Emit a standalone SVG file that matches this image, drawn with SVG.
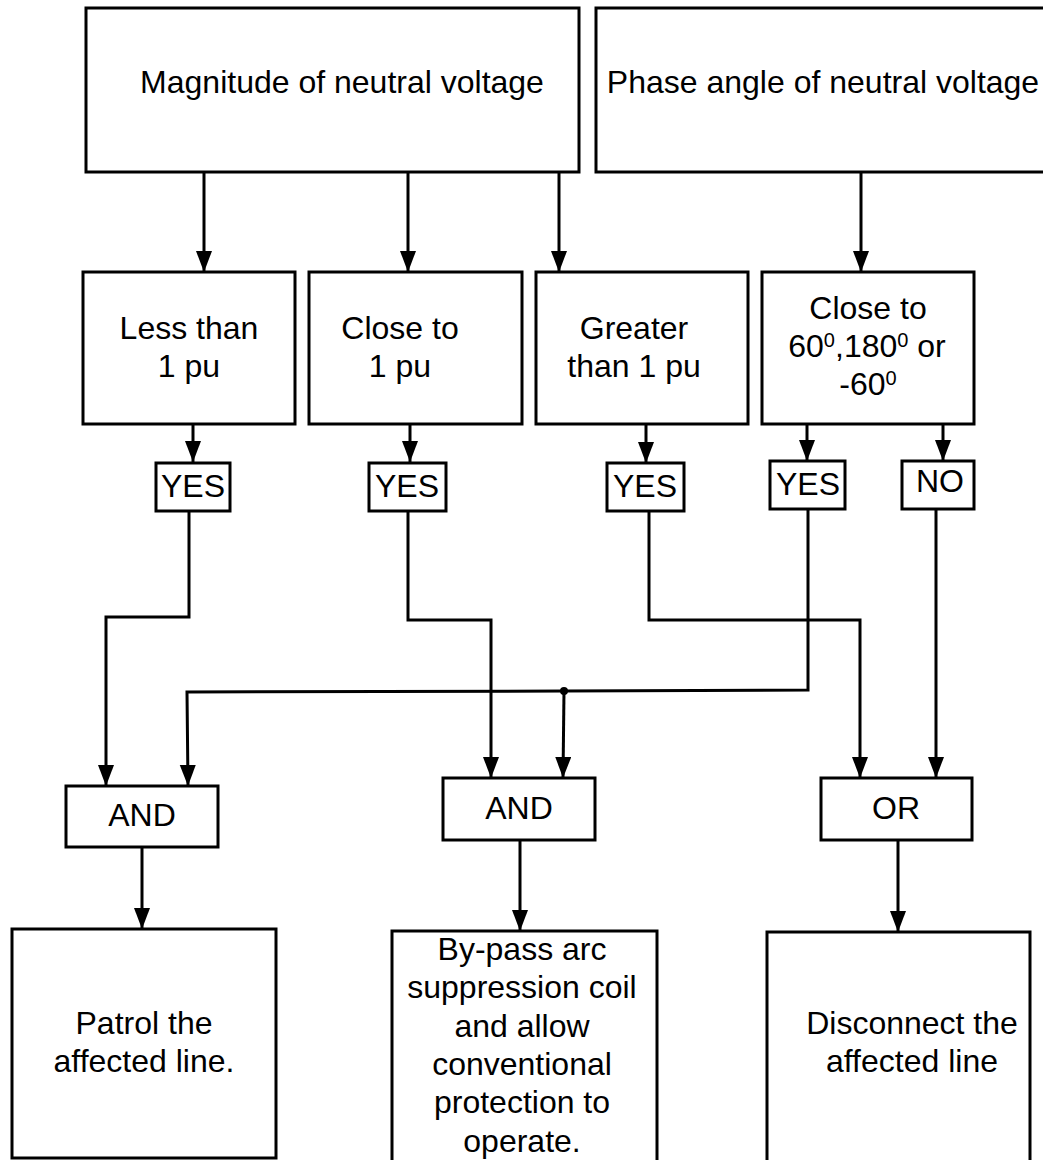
<svg xmlns="http://www.w3.org/2000/svg" width="1043" height="1160" viewBox="0 0 1043 1160">
<defs>
<style>
.box{fill:#fff;stroke:#000;stroke-width:3}
.t{font-family:"Liberation Sans",Arial,sans-serif;font-size:32px;fill:#000;text-anchor:middle}
.sup{font-size:20px}
.c{fill:none;stroke:#000;stroke-width:3}
</style>
<marker id="ah" markerUnits="userSpaceOnUse" markerWidth="22" markerHeight="18" refX="21" refY="8" orient="auto">
<path d="M0,0 L21,8 L0,16 Z" fill="#000"/>
</marker>
</defs>
<rect width="1043" height="1160" fill="#fff"/>

<g id="connectors">
<path class="c" d="M204,172 V272" marker-end="url(#ah)"/>
<path class="c" d="M408,172 V272" marker-end="url(#ah)"/>
<path class="c" d="M559,172 V272" marker-end="url(#ah)"/>
<path class="c" d="M861,172 V272" marker-end="url(#ah)"/>
<path class="c" d="M193,424 V462" marker-end="url(#ah)"/>
<path class="c" d="M410,424 V462" marker-end="url(#ah)"/>
<path class="c" d="M646,424 V463" marker-end="url(#ah)"/>
<path class="c" d="M807,424 V461" marker-end="url(#ah)"/>
<path class="c" d="M943,424 V461" marker-end="url(#ah)"/>
<path class="c" d="M189,511 V617 H106 V786" marker-end="url(#ah)"/>
<path class="c" d="M408,511 V620 H491 V778" marker-end="url(#ah)"/>
<path class="c" d="M649,511 V620 H860 V778" marker-end="url(#ah)"/>
<path class="c" d="M936,509 V778" marker-end="url(#ah)"/>
<path class="c" d="M808,509 V690 L564,691 L187,692 L188,786" marker-end="url(#ah)"/>
<path class="c" d="M564,691 L563,778" marker-end="url(#ah)"/>
<circle cx="564" cy="691" r="4" fill="#000"/>
<path class="c" d="M142,847 V929" marker-end="url(#ah)"/>
<path class="c" d="M520,840 V931" marker-end="url(#ah)"/>
<path class="c" d="M898,840 V932" marker-end="url(#ah)"/>
</g>

<g id="magnitude">
<rect class="box" x="86" y="8" width="493" height="164"/>
<text class="t" x="342" y="93">Magnitude of neutral voltage</text>
</g>
<g id="phase">
<rect class="box" x="596" y="8" width="460" height="164"/>
<text class="t" x="823" y="93">Phase angle of neutral voltage</text>
</g>

<g id="less-than">
<rect class="box" x="83" y="272" width="212" height="152"/>
<text class="t" x="189" y="339">Less than</text>
<text class="t" x="189" y="377">1 pu</text>
</g>
<g id="close-to-1pu">
<rect class="box" x="309" y="272" width="213" height="152"/>
<text class="t" x="400" y="339">Close to</text>
<text class="t" x="400" y="377">1 pu</text>
</g>
<g id="greater">
<rect class="box" x="536" y="272" width="212" height="152"/>
<text class="t" x="634" y="339">Greater</text>
<text class="t" x="634" y="377">than 1 pu</text>
</g>
<g id="close-to-angle">
<rect class="box" x="762" y="272" width="212" height="152"/>
<text class="t" x="868" y="319">Close to</text>
<text class="t" x="867" y="357">60<tspan class="sup" dy="-10">0</tspan><tspan dy="10">,180</tspan><tspan class="sup" dy="-10">0</tspan><tspan dy="10"> or</tspan></text>
<text class="t" x="868" y="395">-60<tspan class="sup" dy="-10">0</tspan></text>
</g>

<g id="yes1">
<rect class="box" x="156" y="463" width="74" height="48"/>
<text class="t" x="193" y="497">YES</text>
</g>
<g id="yes2">
<rect class="box" x="369" y="463" width="77" height="48"/>
<text class="t" x="407" y="497">YES</text>
</g>
<g id="yes3">
<rect class="box" x="607" y="463" width="77" height="48"/>
<text class="t" x="645" y="497">YES</text>
</g>
<g id="yes4">
<rect class="box" x="770" y="461" width="75" height="48"/>
<text class="t" x="808" y="495">YES</text>
</g>
<g id="no">
<rect class="box" x="902" y="461" width="72" height="48"/>
<text class="t" x="940" y="492">NO</text>
</g>

<g id="and1">
<rect class="box" x="66" y="786" width="152" height="61"/>
<text class="t" x="142" y="826">AND</text>
</g>
<g id="and2">
<rect class="box" x="443" y="778" width="152" height="62"/>
<text class="t" x="519" y="819">AND</text>
</g>
<g id="or">
<rect class="box" x="821" y="778" width="151" height="62"/>
<text class="t" x="896" y="819">OR</text>
</g>

<g id="patrol">
<rect class="box" x="12" y="929" width="264" height="229"/>
<text class="t" x="144" y="1034">Patrol the</text>
<text class="t" x="144" y="1072">affected line.</text>
</g>
<g id="bypass">
<rect class="box" x="392" y="931" width="265" height="240"/>
<text class="t" x="522" y="960">By-pass arc</text>
<text class="t" x="522" y="998">suppression coil</text>
<text class="t" x="522" y="1037">and allow</text>
<text class="t" x="522" y="1075">conventional</text>
<text class="t" x="522" y="1113">protection to</text>
<text class="t" x="522" y="1152">operate.</text>
</g>
<g id="disconnect">
<rect class="box" x="767" y="932" width="263" height="240"/>
<text class="t" x="912" y="1034">Disconnect the</text>
<text class="t" x="912" y="1072">affected line</text>
</g>
</svg>
